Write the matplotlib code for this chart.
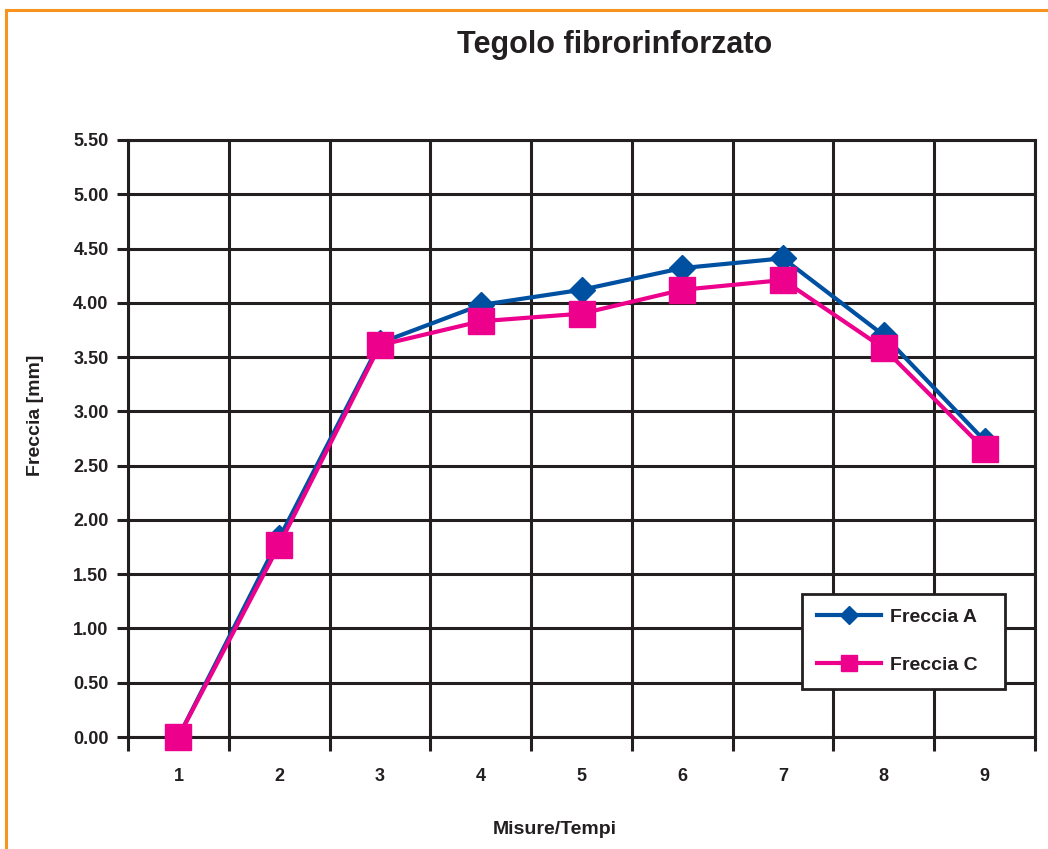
import numpy as np
import matplotlib.pyplot as plt
from matplotlib.lines import Line2D

plt.rcParams['font.family'] = ['Liberation Sans', 'DejaVu Sans']

# dati
misure = ['1', '2', '3', '4', '5', '6', '7', '8', '9']
freccia_a = [0.00, 1.83, 3.63, 3.98, 4.12, 4.32, 4.41, 3.70, 2.73]
freccia_c = [0.00, 1.77, 3.61, 3.83, 3.90, 4.12, 4.21, 3.58, 2.65]
y_ticks = [0.0, 0.5, 1.0, 1.5, 2.0, 2.5, 3.0, 3.5, 4.0, 4.5, 5.0, 5.5]

blu = '#0050A2'
rosa = '#EC008C'
nero = '#231F20'

fig = plt.figure(figsize=(10.48, 8.49), dpi=100)
ax = fig.add_axes([128 / 1048, 1 - 737 / 849, (1035 - 128) / 1048, (737 - 140) / 849])

x = np.arange(len(misure))
ax.plot(x, freccia_a, color=blu, lw=3, marker='D', ms=13.5, mec=blu, label='Freccia A',
        zorder=3, clip_on=False)
ax.plot(x, freccia_c, color=rosa, lw=3, marker='s', ms=19, mec=rosa, label='Freccia C',
        zorder=4, clip_on=False)

ax.set_xlim(-0.5, len(misure) - 0.5)
ax.set_ylim(0, 5.5)

# griglia ai bordi delle categorie, etichette al centro
ax.set_xticks(np.arange(len(misure) + 1) - 0.5)
ax.set_xticklabels([])
ax.set_xticks(x, minor=True)
ax.set_xticklabels(misure, minor=True, fontsize=13, fontweight='bold', color=nero)
ax.tick_params(axis='x', which='major', length=10, width=2.2, direction='out', color=nero)
ax.tick_params(axis='x', which='minor', length=0, pad=22)

ax.set_yticks(y_ticks)
ax.set_yticklabels([f'{v:.2f}' for v in y_ticks], fontsize=13, fontweight='bold', color=nero)
ax.tick_params(axis='y', length=8, width=2.2, direction='out', color=nero, pad=6)

ax.grid(True, which='major', color=nero, lw=2.2)
ax.set_axisbelow(True)
for s in ax.spines.values():
    s.set_color(nero)
    s.set_linewidth(2.2)

fig.text(615 / 1048, 1 - 45 / 849, 'Tegolo fibrorinforzato', ha='center', va='center',
         fontsize=22, fontweight='bold', color=nero)
fig.text(555 / 1048, 1 - 829 / 849, 'Misure/Tempi', ha='center', va='center',
         fontsize=14, fontweight='bold', color=nero)
fig.text(36 / 1048, 1 - 415 / 849, 'Freccia [mm]', ha='center', va='center', rotation=90,
         fontsize=14, fontweight='bold', color=nero)

leg = ax.legend(loc='upper left',
                bbox_to_anchor=((802 - 128) / 907, (737 - 594) / 597, (1005 - 802) / 907, 0),
                mode='expand', borderaxespad=0, fancybox=False, framealpha=1, edgecolor=nero,
                borderpad=0.75, labelspacing=1.55, handlelength=3.3, handletextpad=0.45,
                prop={'weight': 'bold', 'size': 14})
leg.get_frame().set_linewidth(2)
for t in leg.get_texts():
    t.set_color(nero)
h_a, h_c = leg.legend_handles
h_a.set_markersize(9)
h_c.set_markersize(11.5)

# bordo arancione
fig.add_artist(Line2D([6 / 1048, 6 / 1048], [0, 1 - 10 / 849], color='#F7941D', lw=2.2))
fig.add_artist(Line2D([6 / 1048, 1], [1 - 10 / 849, 1 - 10 / 849], color='#F7941D', lw=2.2))

fig.savefig('out.png', dpi=100)
